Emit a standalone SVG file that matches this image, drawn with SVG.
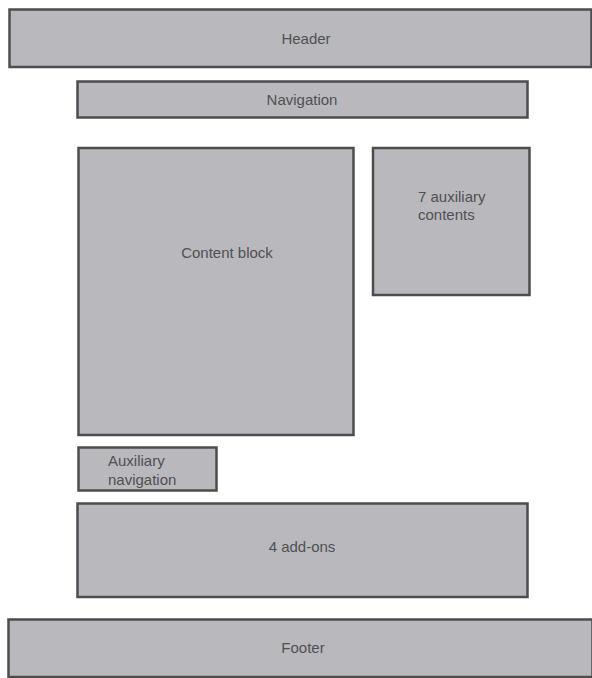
<svg xmlns="http://www.w3.org/2000/svg" width="592" height="678" viewBox="0 0 592 678">
<style>
.box{fill:#b9b9bd;stroke:#4d4d4f;stroke-width:2.5}
.t{font-family:"Liberation Sans",Arial,sans-serif;font-size:15px;fill:#505052}
.c{text-anchor:middle}
</style>
<rect width="592" height="678" fill="#ffffff"/>
<g id="header"><rect class="box" x="9.5" y="9.5" width="582" height="57.5"/><text class="t c" x="306" y="44">Header</text></g>
<g id="navigation"><rect class="box" x="77.5" y="81.5" width="450" height="36"/><text class="t c" x="302" y="105">Navigation</text></g>
<g id="content"><rect class="box" x="78.5" y="148" width="275" height="287"/><text class="t c" x="227" y="258">Content block</text></g>
<g id="aux-contents"><rect class="box" x="373" y="148" width="156.5" height="147"/><text class="t" x="418" y="202">7 auxiliary</text><text class="t" x="418" y="220">contents</text></g>
<g id="aux-nav"><rect class="box" x="78.5" y="447.5" width="138" height="43"/><text class="t" x="108" y="466">Auxiliary</text><text class="t" x="108" y="485">navigation</text></g>
<g id="addons"><rect class="box" x="77.5" y="503.5" width="450" height="93.5"/><text class="t c" x="302" y="552">4 add-ons</text></g>
<g id="footer"><rect class="box" x="8.5" y="619.5" width="584" height="57.5"/><text class="t c" x="303" y="653">Footer</text></g>
<g id="connectors"/>
</svg>
